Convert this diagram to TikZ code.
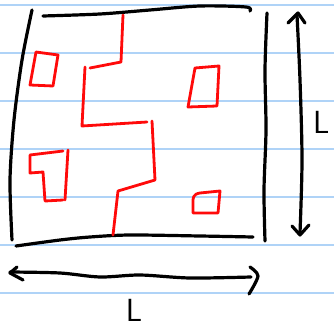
\documentclass[tikz,border=0pt]{standalone}
\usepackage{tikz}

\begin{document}
\begin{tikzpicture}[x=1pt,y=-1pt,line cap=round,line join=round]
\definecolor{paperRule}{HTML}{AFD3F7}
\definecolor{penRed}{HTML}{FF0A0A}
\tikzset{
  ruleLine/.style={paperRule,line width=1.6pt},
  sketchInk/.style={black,line width=3.2pt},
  mazeWall/.style={penRed,line width=2.8pt},
  handLabel/.style={font=\sffamily\fontsize{32}{32}\selectfont,inner sep=0pt}
}
\clip (0,0) rectangle (334,331);
\useasboundingbox (0,0) rectangle (334,331);
\fill[white] (0,0) rectangle (334,331);
% notebook ruling
\foreach \y in {5,53,101,149,197,245,293} {
  \draw[ruleLine] (0,\y) -- (334,\y);
}
% the square of side L
\draw[sketchInk] plot[smooth] coordinates {(32,10) (22,60) (14,120) (10,180) (12,240)};
\draw[sketchInk] plot[smooth] coordinates {(43,16) (100,14) (150,10) (200,6) (246,7) (250,11)};
\draw[sketchInk] plot[smooth] coordinates {(16,246) (60,240) (90,237) (130,235) (200,236) (253,237)};
\draw[sketchInk] plot[smooth] coordinates {(267,13) (265,70) (266,130) (264,190) (265,241)};
% vertical double arrow
\draw[sketchInk] plot[smooth] coordinates {(297,15) (300,80) (302,160) (300,233)};
\draw[sketchInk] (288,23) -- (298,13) -- (305,23);
\draw[sketchInk] (292,226) -- (300,235) -- (309,225);
% horizontal double arrow
\draw[sketchInk] plot[smooth] coordinates {(10,272) (60,273) (100,277) (140,275) (190,278) (251,277)};
\draw[sketchInk] (17,267) -- (10,273) -- (23,280);
\draw[sketchInk] plot[smooth] coordinates {(250,267) (258,276) (249,294)};
% labels
\node[handLabel,anchor=west] (sideLabel) at (313,122) {L};
\node[handLabel,anchor=south] (baseLabel) at (134,322) {L};
% red walls
\draw[mazeWall] (36,52) -- (58,55) -- (53,86) -- (30,85) -- cycle;
\draw[mazeWall] (123,15) -- (121,62) -- (90,68);
\draw[mazeWall] (85,67) -- (82,126) -- (147,122);
\draw[mazeWall] (152,121) -- (155,180) -- (118,191) -- (113,235);
\draw[mazeWall] (195,68) -- (219,66) -- (217,106) -- (188,107) -- cycle;
\draw[mazeWall] (63,151) -- (30,155) -- (30,173) -- (43,172) -- (45,201) -- (63,200);
\draw[mazeWall] (68,150) -- (65,200);
\draw[mazeWall] (220,191) -- (200,193) .. controls (193,194) and (193,198) .. (193,202) -- (193,213) -- (218,213) -- cycle;
\end{tikzpicture}
\end{document}
